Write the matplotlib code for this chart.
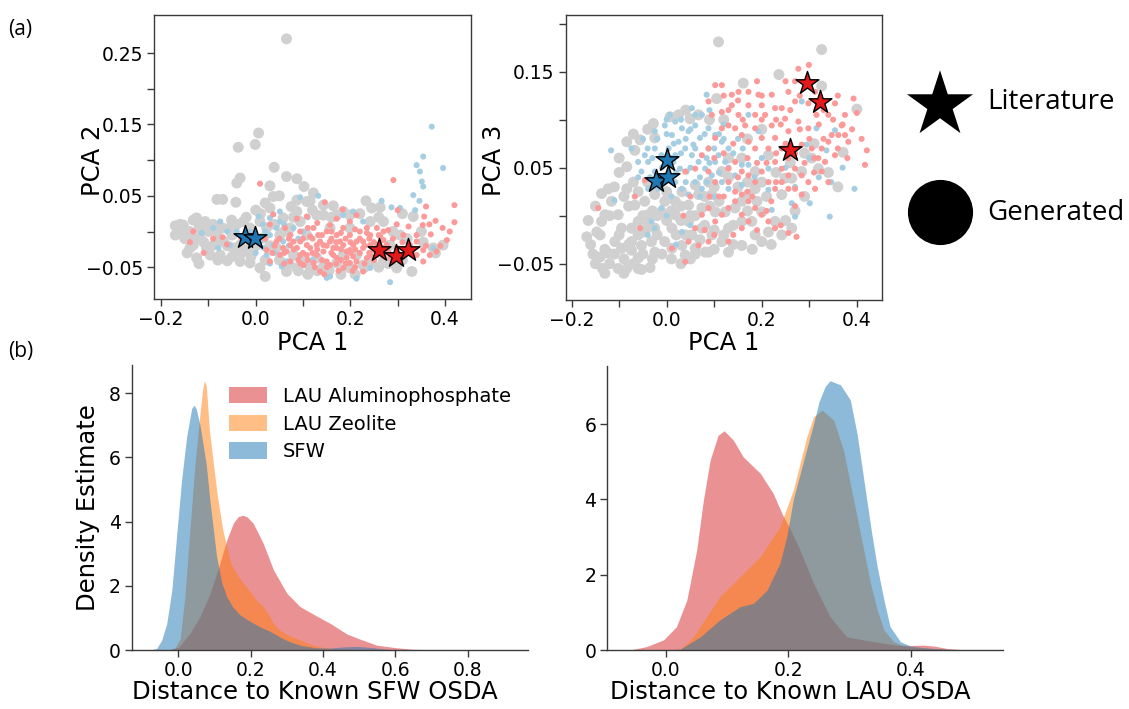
import matplotlib
matplotlib.use("Agg")
import matplotlib.pyplot as plt
import numpy as np
from matplotlib.patches import Patch

plt.rcParams['font.family'] = ['DejaVu Sans']

# ---------------- data: PCA scatter (PCA1, PCA2) ----------------
pca12_gray = [(0.065, 0.270), (0.006, 0.138), (-0.001, 0.122), (-0.037, 0.118), (0.039, 0.090), (0.065, 0.077),
    (0.087, 0.074), (-0.033, 0.075), (-0.040, 0.068), (0.030, 0.064), (0.102, 0.063), (0.122, 0.054), (0.037, 0.049),
    (-0.082, 0.045), (-0.070, 0.045), (-0.042, 0.041), (0.087, 0.044), (0.115, 0.043), (0.143, 0.037), (0.164, 0.036),
    (0.233, 0.043), (0.245, 0.033), (0.263, 0.034), (0.185, 0.028), (0.199, 0.023), (0.333, 0.021), (-0.170, 0.008),
    (-0.149, -0.002), (-0.132, 0.016), (-0.107, 0.014), (-0.111, 0.002), (-0.132, -0.019), (-0.089, -0.019),
    (-0.082, 0.000), (-0.051, 0.016), (-0.054, 0.005), (-0.139, -0.023), (-0.125, -0.037), (-0.060, -0.041),
    (-0.033, -0.042), (-0.012, -0.044), (0.020, -0.063), (0.009, -0.051), (0.115, -0.051), (0.143, -0.049),
    (0.171, -0.044), (0.199, -0.051), (0.227, -0.047), (0.245, -0.042), (0.330, -0.056), (0.354, -0.015),
    (0.396, -0.019), (0.375, -0.023), (0.305, -0.005), (0.284, -0.019), (0.058, 0.019), (0.073, 0.005),
    (0.094, 0.014), (0.108, -0.005), (0.129, 0.023), (0.157, 0.005), (0.199, 0.005), (0.242, 0.014), (0.270, 0.014),
    (-0.012, -0.023), (-0.026, 0.014), (0.030, 0.033), (0.087, 0.028), (0.108, 0.042), (-0.104, -0.023),
    (-0.075, -0.033), (-0.153, 0.009), (-0.125, 0.019), (-0.096, 0.005), (-0.068, -0.014), (-0.047, -0.023),
    (0.044, -0.023), (0.080, -0.033), (0.101, -0.042), (0.129, -0.037), (0.213, -0.033), (0.185, -0.033),
    (0.023, 0.005), (0.009, 0.014), (-0.012, 0.005), (-0.153, 0.000), (-0.118, -0.009), (-0.096, -0.033),
    (-0.033, -0.019), (0.016, -0.009), (0.051, -0.005), (0.143, 0.023), (0.171, 0.023), (0.270, -0.042),
    (0.298, -0.051), (0.065, -0.056), (0.087, -0.051),
    (-0.16, 0.01), (-0.15, -0.01), (-0.14, 0.0), (-0.13, -0.01), (-0.12, 0.005), (-0.11, -0.015), (-0.10, 0.0),
    (-0.09, 0.01), (-0.08, -0.01), (-0.07, 0.005), (-0.06, -0.02), (-0.05, -0.005), (-0.04, 0.01), (-0.03, -0.03),
    (-0.02, 0.02), (-0.01, -0.035), (0.0, -0.02), (0.01, 0.025), (0.02, -0.04), (0.03, -0.02), (0.04, 0.01),
    (0.05, -0.04), (0.06, 0.0), (0.07, -0.045), (0.08, 0.02), (0.09, -0.055), (0.11, -0.06), (0.13, -0.055),
    (0.155, -0.055), (0.18, -0.06), (0.21, -0.06), (0.23, -0.05), (0.26, -0.05), (0.28, -0.045), (0.31, -0.04),
    (0.32, -0.01), (0.35, 0.0), (0.38, -0.03), (-0.17, -0.005), (-0.145, -0.03), (-0.12, -0.045), (-0.08, -0.04),
    (-0.05, -0.035), (0.0, 0.03), (0.02, 0.04), (0.05, 0.05), (0.075, 0.035), (0.12, 0.03), (0.16, 0.02),
    (0.22, 0.025), (0.26, 0.02), (0.29, 0.0), (0.31, 0.025)]
pca12_blue = [(0.372, 0.147), (0.354, 0.105), (0.340, 0.093), (0.396, 0.089), (0.347, 0.084), (0.351, 0.070),
    (0.354, 0.063), (0.333, 0.051), (0.346, 0.043), (0.287, 0.034), (0.305, 0.033), (0.337, 0.030), (0.266, 0.043),
    (-0.075, 0.014), (-0.114, -0.002), (-0.079, -0.023), (0.006, 0.021), (0.051, 0.028), (0.094, 0.048),
    (0.132, 0.050), (0.185, 0.023), (0.206, 0.028), (0.157, -0.063), (0.150, -0.065), (0.213, -0.066),
    (0.284, -0.071), (0.055, -0.049), (0.065, -0.042), (0.016, -0.023), (0.030, -0.005), (0.044, 0.005),
    (0.073, -0.005), (-0.012, 0.000), (0.023, -0.033), (0.375, -0.023), (0.227, 0.014), (0.242, -0.051),
    (0.009, -0.014), (0.037, -0.019), (0.058, -0.014), (-0.040, 0.000), (-0.054, -0.019), (0.051, 0.014),
    (0.080, 0.005), (0.030, 0.019),
    (-0.03, -0.015), (-0.02, 0.0), (0.0, -0.03), (0.02, 0.0), (0.04, -0.03), (0.06, 0.01), (0.07, -0.02),
    (0.09, -0.01), (0.1, 0.0), (0.11, 0.02), (0.12, -0.04), (0.03, -0.045), (0.015, 0.01), (-0.06, 0.0),
    (-0.09, 0.005)]
pca12_pink = [(0.009, 0.067), (0.291, 0.072), (0.420, 0.037), (0.420, 0.013), (0.395, 0.005), (0.404, -0.012),
    (0.356, 0.021), (0.367, 0.010), (0.370, -0.004), (0.353, 0.009), (0.323, 0.007), (0.298, 0.010), (0.312, -0.005),
    (0.280, 0.002), (0.146, 0.041), (0.184, 0.031), (0.171, 0.018), (0.108, 0.021), (0.087, 0.018), (0.062, 0.005),
    (0.037, 0.024), (0.030, 0.010), (-0.139, -0.015), (-0.132, 0.000), (-0.070, -0.008), (-0.061, -0.018),
    (0.023, -0.026), (0.044, -0.014), (0.073, -0.005), (0.094, -0.014), (0.115, -0.007), (0.129, -0.019),
    (0.143, -0.028), (0.157, -0.014), (0.171, -0.023), (0.185, -0.019), (0.199, -0.026), (0.213, -0.014),
    (0.227, -0.023), (0.242, -0.019), (0.256, -0.033), (0.270, -0.023), (0.087, -0.023), (0.108, -0.033),
    (0.129, -0.033), (0.150, -0.042), (0.171, -0.037), (0.192, -0.037), (0.213, -0.042), (0.235, -0.037),
    (0.101, -0.047), (0.136, -0.056), (0.185, -0.051), (0.227, -0.056), (0.073, -0.019), (0.058, -0.023),
    (0.051, -0.033), (0.094, 0.000), (0.122, 0.005), (0.150, 0.000), (0.171, -0.005), (0.199, -0.005),
    (0.220, 0.000), (0.242, -0.005), (0.263, -0.007), (0.277, -0.019), (0.298, -0.023), (0.326, -0.019),
    (0.340, -0.014), (0.354, -0.026), (0.368, -0.033), (0.382, -0.028), (0.354, -0.042), (0.199, 0.014),
    (0.213, 0.023), (0.270, 0.000), (0.108, -0.019), (0.136, -0.014), (0.164, -0.033), (0.192, -0.028),
    (0.206, -0.035), (0.256, -0.019), (0.284, -0.037), (0.030, -0.042), (0.073, -0.042), (0.115, -0.023),
    (0.143, -0.019), (0.164, -0.023), (0.206, -0.019), (0.227, -0.014), (0.249, -0.026), (0.094, -0.033),
    (0.122, -0.044), (0.157, -0.047), (0.199, -0.044), (0.242, -0.033), (0.270, -0.033), (0.178, -0.014),
    (0.132, -0.005), (0.157, 0.009), (0.185, 0.005), (0.235, 0.005), (0.256, 0.005), (0.312, -0.033),
    (0.340, -0.033), (0.080, -0.014), (0.065, -0.028),
    (0.04, -0.02), (0.05, -0.01), (0.06, -0.03), (0.07, -0.01), (0.08, -0.025), (0.09, -0.04), (0.10, -0.03),
    (0.10, -0.01), (0.11, -0.04), (0.12, -0.03), (0.12, -0.01), (0.13, -0.025), (0.14, -0.04), (0.14, -0.005),
    (0.15, -0.02), (0.15, -0.05), (0.16, -0.03), (0.16, -0.01), (0.17, -0.045), (0.17, -0.015), (0.18, -0.025),
    (0.18, -0.04), (0.19, -0.01), (0.19, -0.045), (0.20, -0.03), (0.20, -0.015), (0.21, -0.025), (0.21, -0.05),
    (0.22, -0.03), (0.22, -0.01), (0.23, -0.045), (0.23, -0.02), (0.24, -0.03), (0.24, -0.01), (0.25, -0.04),
    (0.25, -0.015), (0.26, -0.025), (0.26, -0.005), (0.27, -0.035), (0.27, -0.012), (0.28, -0.028), (0.29, -0.01),
    (0.29, -0.04), (0.30, -0.03), (0.31, -0.015), (0.33, -0.03), (0.34, -0.005), (0.36, -0.02), (0.11, 0.005),
    (0.13, 0.012), (0.16, 0.0), (0.18, -0.002), (0.21, 0.003), (0.235, -0.002), (0.125, -0.05), (0.175, -0.055),
    (0.145, -0.06), (0.205, -0.055), (0.095, -0.045), (0.06, -0.045), (0.035, -0.03), (0.02, -0.01),
    (0.005, -0.015), (-0.03, -0.01), (-0.09, -0.01), (-0.11, -0.03), (0.39, -0.02), (0.41, 0.0), (0.38, 0.015),
    (0.36, 0.035), (0.30, 0.03)]
pca12_lit_sfw = [(-0.0225, -0.0070), (-0.0014, -0.0084)]
pca12_lit_lau = [(0.261, -0.0257), (0.296, -0.035), (0.3225, -0.0257)]

# ---------------- data: PCA scatter (PCA1, PCA3) ----------------
pca13_gray = [(0.109, 0.181), (0.326, 0.173), (0.236, 0.147), (0.326, 0.135), (0.400, 0.111), (0.371, 0.066),
    (0.161, 0.138), (0.105, 0.122), (-0.168, -0.022), (-0.147, -0.017), (-0.130, -0.060), (-0.102, -0.055),
    (-0.084, -0.055), (-0.053, -0.056), (-0.035, -0.054), (-0.140, -0.043), (-0.123, -0.039), (-0.095, -0.034),
    (-0.074, -0.036), (-0.053, -0.031), (-0.137, -0.006), (-0.130, 0.001), (-0.137, 0.023), (-0.123, 0.028),
    (-0.084, 0.028), (-0.084, 0.051), (-0.084, 0.077), (-0.067, 0.068), (-0.056, 0.079), (-0.025, 0.081),
    (-0.028, 0.096), (0.007, 0.103), (0.025, 0.105), (0.049, 0.101), (0.067, 0.105), (-0.095, -0.013),
    (-0.074, -0.013), (-0.046, -0.017), (-0.025, -0.013), (-0.004, -0.027), (0.011, -0.034), (0.032, -0.031),
    (0.060, -0.034), (0.088, -0.038), (0.130, -0.038), (0.158, -0.031), (0.186, -0.020), (0.214, -0.017),
    (0.179, -0.006), (0.200, 0.004), (0.158, -0.006), (0.130, -0.013), (0.095, -0.020), (0.074, -0.013),
    (0.046, -0.006), (0.018, 0.001), (-0.011, 0.004), (-0.039, 0.001), (-0.060, -0.006), (-0.067, 0.011),
    (-0.046, 0.015), (-0.025, 0.022), (-0.004, 0.015), (0.018, 0.015), (0.046, 0.011), (0.074, 0.008),
    (0.102, 0.004), (0.123, 0.004), (0.144, 0.008), (0.158, 0.015), (0.172, 0.022), (0.186, 0.028),
    (0.200, 0.035), (0.095, 0.022), (0.067, 0.022), (0.032, 0.025), (0.060, 0.032), (0.088, 0.035),
    (0.116, 0.046), (0.130, 0.060), (0.158, 0.060), (0.186, 0.046), (0.214, 0.063), (0.249, 0.039),
    (0.263, 0.039), (0.284, 0.046), (0.305, 0.060), (0.319, 0.049), (0.242, -0.020), (0.263, -0.013),
    (-0.025, -0.038), (-0.060, -0.044), (0.081, -0.038), (0.039, -0.041), (-0.109, -0.027), (-0.116, 0.015),
    (-0.102, 0.001), (0.011, -0.013), (0.053, -0.020), (0.116, -0.027), (-0.032, -0.027), (-0.074, -0.027),
    (0.200, -0.027), (0.228, -0.006), (0.242, 0.022),
    (-0.16, -0.03), (-0.15, -0.05), (-0.14, -0.02), (-0.13, -0.035), (-0.12, -0.05), (-0.11, -0.04), (-0.10, -0.02),
    (-0.09, -0.045), (-0.08, -0.03), (-0.07, -0.05), (-0.06, -0.02), (-0.05, -0.04), (-0.04, -0.01), (-0.03, -0.045),
    (-0.02, -0.02), (-0.01, -0.04), (0.0, -0.005), (0.01, -0.045), (0.02, -0.02), (0.03, -0.005), (0.04, -0.02),
    (0.05, -0.045), (0.06, 0.0), (0.07, -0.025), (0.08, -0.01), (0.09, 0.01), (0.10, -0.015), (0.11, 0.015),
    (0.12, -0.02), (0.14, -0.01), (0.15, 0.03), (0.17, 0.005), (0.19, 0.015), (0.21, 0.02), (-0.12, 0.0),
    (-0.11, 0.03), (-0.10, 0.045), (-0.09, 0.02), (-0.08, 0.01), (-0.07, 0.035), (-0.06, 0.025), (-0.05, 0.0),
    (-0.04, 0.035), (-0.03, 0.005), (-0.02, 0.0), (0.0, 0.025), (0.01, 0.005), (0.03, 0.01), (0.05, 0.0),
    (0.08, 0.02), (0.1, 0.03), (0.13, 0.04), (0.17, 0.035), (-0.1, 0.06), (-0.07, 0.085), (-0.04, 0.09),
    (0.04, 0.11), (0.09, 0.1), (0.12, 0.1), (-0.15, 0.01), (-0.165, -0.005), (-0.155, -0.04), (-0.135, -0.055),
    (-0.09, -0.06), (-0.06, -0.055), (0.03, -0.05), (0.06, -0.04), (0.1, -0.035), (0.14, -0.03), (0.18, -0.035),
    (0.22, -0.03), (0.25, -0.005), (0.27, 0.005), (0.29, 0.02), (0.23, 0.045), (0.26, 0.055), (0.29, 0.065),
    (0.31, 0.075), (0.34, 0.045), (0.36, 0.03), (0.2, 0.09), (0.17, 0.08)]
pca13_blue = [(-0.117, 0.068), (-0.074, 0.070), (-0.053, 0.046), (-0.110, 0.016), (0.007, 0.105), (0.053, 0.112),
    (0.084, 0.126), (0.074, 0.105), (-0.025, 0.088), (-0.004, 0.094), (0.018, 0.098), (0.032, 0.091), (0.046, 0.088),
    (0.060, 0.094), (0.088, 0.091), (0.102, 0.084), (0.116, 0.077), (0.130, 0.070), (0.011, 0.084), (0.025, 0.077),
    (0.039, 0.070), (0.053, 0.063), (0.067, 0.056), (0.081, 0.049), (0.095, 0.042), (0.109, 0.063), (0.123, 0.056),
    (-0.025, 0.070), (-0.011, 0.063), (-0.039, 0.056), (-0.025, 0.046), (-0.004, 0.042), (0.018, 0.035),
    (0.032, 0.028), (0.046, 0.022), (0.060, 0.035), (0.074, 0.028), (0.088, 0.070), (0.102, 0.056), (0.116, 0.035),
    (0.130, 0.028), (0.144, 0.042), (0.158, 0.032), (-0.018, 0.028), (-0.032, -0.006), (-0.025, -0.013),
    (0.032, -0.017), (-0.011, 0.008), (-0.039, 0.028), (0.014, 0.056), (0.028, 0.049), (0.042, 0.046),
    (0.056, 0.074), (0.070, 0.081), (0.084, 0.060), (0.004, 0.070), (0.018, 0.063), (-0.060, 0.056),
    (-0.046, 0.063), (0.172, 0.053), (0.284, 0.119), (0.214, 0.027), (0.221, 0.006), (0.263, 0.013),
    (0.270, -0.001), (0.301, 0.013), (0.343, -0.001), (0.346, 0.035), (0.395, 0.028), (0.336, 0.068),
    (0.315, 0.091), (0.354, 0.089), (0.172, 0.105), (0.193, 0.088), (0.200, 0.060), (0.214, 0.049),
    (0.158, 0.053), (0.256, 0.074), (0.294, 0.074),
    (-0.05, 0.08), (-0.04, 0.07), (-0.03, 0.06), (-0.02, 0.08), (-0.01, 0.05), (0.0, 0.085), (0.01, 0.06),
    (0.02, 0.045), (0.03, 0.065), (0.04, 0.08), (0.05, 0.05), (0.06, 0.07), (0.07, 0.04), (0.08, 0.085),
    (0.09, 0.055), (0.1, 0.07), (0.11, 0.045), (0.12, 0.08), (0.13, 0.05), (0.14, 0.065), (0.0, 0.1), (0.03, 0.1),
    (0.06, 0.105), (0.09, 0.11), (0.12, 0.095), (-0.06, 0.04), (-0.02, 0.03), (0.01, 0.02), (0.04, 0.035),
    (0.07, 0.02), (0.1, 0.02), (0.05, 0.09), (0.015, 0.075), (-0.035, 0.04), (0.085, 0.035), (0.11, 0.085),
    (0.15, 0.08), (0.16, 0.07), (0.0, 0.0), (0.02, -0.03), (-0.04, -0.02), (0.05, -0.01), (0.185, 0.04),
    (0.25, 0.05), (0.27, 0.03), (0.32, 0.04), (0.3, 0.06), (0.37, 0.05)]
pca13_pink = [(0.299, 0.157), (0.277, 0.153), (0.270, 0.140), (0.298, 0.117), (0.340, 0.105), (0.354, 0.117),
    (0.393, 0.122), (0.400, 0.107), (0.368, 0.094), (0.347, 0.084), (0.361, 0.084), (0.375, 0.084), (0.421, 0.068),
    (0.417, 0.053), (0.326, 0.070), (0.319, 0.060), (0.305, 0.070), (0.284, 0.074), (0.256, 0.088), (0.249, 0.101),
    (0.228, 0.112), (0.221, 0.094), (0.207, 0.105), (0.193, 0.126), (0.172, 0.129), (0.151, 0.129), (0.116, 0.136),
    (0.102, 0.136), (0.088, 0.119), (0.095, 0.105), (0.116, 0.108), (0.137, 0.115), (0.151, 0.105), (0.165, 0.094),
    (0.186, 0.091), (0.200, 0.081), (0.228, 0.081), (0.242, 0.070), (0.256, 0.060), (0.270, 0.049), (0.284, 0.042),
    (0.298, 0.035), (0.256, 0.042), (0.242, 0.049), (0.228, 0.056), (0.214, 0.070), (0.186, 0.070), (0.172, 0.077),
    (0.158, 0.084), (0.144, 0.091), (0.130, 0.094), (0.116, 0.091), (0.102, 0.081), (0.088, 0.070), (0.074, 0.063),
    (0.130, 0.049), (0.144, 0.056), (0.158, 0.046), (0.172, 0.042), (0.186, 0.035), (0.200, 0.046), (0.214, 0.035),
    (0.228, 0.028), (0.242, 0.035), (0.256, 0.028), (0.270, 0.028), (0.284, 0.022), (0.130, 0.035), (0.144, 0.025),
    (0.158, 0.022), (0.172, 0.015), (0.186, 0.008), (0.200, 0.001), (0.214, -0.006), (0.228, -0.013),
    (0.256, -0.018), (0.273, -0.022), (0.172, -0.006), (0.158, 0.001), (0.144, 0.015), (0.130, 0.008),
    (0.116, 0.001), (0.102, -0.006), (0.088, 0.008), (0.074, 0.001), (0.060, -0.013), (0.046, -0.027),
    (0.039, -0.048), (0.011, -0.034), (0.067, -0.031), (0.088, -0.027), (0.130, -0.027), (0.158, -0.013),
    (0.088, 0.046), (0.102, 0.035), (0.060, 0.049), (0.039, 0.046), (-0.046, 0.037), (-0.067, 0.020),
    (-0.144, 0.008), (-0.056, -0.013), (0.312, 0.028), (0.326, 0.046), (0.333, 0.056), (0.354, 0.063),
    (0.340, 0.077), (0.382, 0.077), (0.242, 0.112), (0.277, 0.098), (0.298, 0.091), (0.315, 0.105),
    (0.221, 0.126), (0.200, 0.115), (0.312, 0.129), (0.186, 0.105), (0.172, 0.115), (0.137, 0.126),
    (0.270, 0.119), (0.256, 0.129), (0.375, 0.105),
    (0.1, 0.06), (0.11, 0.02), (0.12, 0.065), (0.13, 0.11), (0.14, 0.075), (0.15, 0.04), (0.16, 0.1), (0.17, 0.06),
    (0.18, 0.02), (0.19, 0.055), (0.2, 0.1), (0.21, 0.055), (0.22, 0.015), (0.23, 0.065), (0.24, 0.095),
    (0.25, 0.075), (0.26, 0.11), (0.27, 0.065), (0.28, 0.09), (0.29, 0.055), (0.3, 0.08), (0.31, 0.045),
    (0.32, 0.095), (0.33, 0.08), (0.34, 0.035), (0.35, 0.1), (0.36, 0.07), (0.37, 0.095), (0.38, 0.06),
    (0.39, 0.09), (0.41, 0.08), (0.1, -0.02), (0.14, -0.02), (0.19, -0.015), (0.24, -0.01), (0.21, 0.005),
    (0.17, 0.025), (0.12, 0.02), (0.09, 0.02), (0.08, -0.015), (0.05, 0.02), (0.035, 0.0), (0.23, 0.035),
    (0.27, 0.01), (0.31, 0.06), (0.28, 0.125), (0.33, 0.11), (0.36, 0.125), (0.25, 0.14), (0.19, 0.14),
    (0.12, 0.125), (0.15, 0.12), (0.23, 0.1), (0.2, 0.125)]
pca13_lit_sfw = [(0.0, 0.058), (-0.023, 0.0365), (0.0035, 0.0406)]
pca13_lit_lau = [(0.2944, 0.1378), (0.3224, 0.118), (0.26, 0.0684)]

# ---------------- data: density curves ----------------
sfw_dist_x = [-0.075, -0.06, -0.046, -0.032, -0.018, -0.005, 0.009, 0.023, 0.037, 0.044, 0.05, 0.06, 0.07, 0.077,
              0.087, 0.097, 0.106, 0.12, 0.134, 0.15, 0.17, 0.19, 0.21, 0.23, 0.25, 0.27, 0.29, 0.31, 0.34,
              0.38, 0.42, 0.46, 0.50, 0.54, 0.58, 0.62]
sfw_dist_sfw = [0.0, 0.05, 0.31, 0.83, 1.87, 3.53, 5.3, 6.65, 7.53, 7.63, 7.5, 7.0, 6.3, 5.8, 4.7, 3.74, 2.9, 2.1,
                1.66, 1.35, 1.1, 0.95, 0.82, 0.7, 0.6, 0.48, 0.35, 0.25, 0.14, 0.07, 0.06, 0.1, 0.11, 0.07, 0.02, 0.0]
sfw_dist_zeo_x = [-0.03, -0.01, 0.005, 0.018, 0.032, 0.046, 0.06, 0.067, 0.072, 0.077, 0.08, 0.086, 0.097, 0.108,
                  0.123, 0.145, 0.165, 0.18, 0.2, 0.22, 0.235, 0.25, 0.263, 0.28, 0.3, 0.337, 0.36, 0.39, 0.43,
                  0.5, 0.55]
sfw_dist_zeo = [0.0, 0.05, 0.35, 1.66, 3.74, 5.8, 7.37, 8.1, 8.39, 8.25, 7.8, 6.85, 5.8, 4.8, 3.74, 2.7, 2.3, 2.08,
                1.8, 1.5, 1.35, 1.1, 0.83, 0.62, 0.48, 0.31, 0.2, 0.1, 0.04, 0.01, 0.0]
sfw_dist_alpo_x = [-0.03, 0.0, 0.032, 0.06, 0.088, 0.115, 0.134, 0.152, 0.165, 0.178, 0.19, 0.207, 0.235, 0.263,
                   0.3, 0.337, 0.373, 0.40, 0.42, 0.466, 0.5, 0.549, 0.604, 0.65, 0.7, 0.8, 0.85]
sfw_dist_alpo = [0.0, 0.08, 0.52, 1.04, 1.77, 2.7, 3.43, 3.95, 4.15, 4.2, 4.15, 3.95, 3.32, 2.5, 1.77, 1.35, 1.12,
                 0.95, 0.83, 0.5, 0.35, 0.15, 0.07, 0.02, 0.01, 0.01, 0.0]

lau_dist_alpo_x = [-0.09, -0.059, -0.032, -0.004, 0.017, 0.034, 0.05, 0.061, 0.072, 0.085, 0.095, 0.11, 0.126,
                   0.154, 0.175, 0.19, 0.2, 0.219, 0.241, 0.268, 0.295, 0.339, 0.377, 0.40, 0.42, 0.44, 0.459,
                   0.49, 0.52]
lau_dist_alpo = [0.0, 0.0, 0.09, 0.27, 0.62, 1.33, 2.65, 3.98, 5.04, 5.7, 5.82, 5.57, 5.13, 4.69, 4.16, 3.6, 3.3,
                 2.65, 1.77, 0.88, 0.35, 0.22, 0.13, 0.12, 0.13, 0.1, 0.04, 0.0, 0.0]
lau_dist_zeo_x = [-0.02, 0.023, 0.045, 0.066, 0.088, 0.121, 0.154, 0.186, 0.208, 0.219, 0.23, 0.241, 0.255, 0.274,
                  0.29, 0.301, 0.312, 0.323, 0.334, 0.345, 0.356, 0.372, 0.39, 0.42, 0.47]
lau_dist_zeo = [0.0, 0.02, 0.35, 0.88, 1.42, 1.95, 2.48, 3.27, 4.25, 4.96, 5.66, 6.19, 6.37, 6.1, 5.3, 4.42, 3.54,
                2.65, 1.77, 1.06, 0.53, 0.22, 0.09, 0.05, 0.0]
lau_dist_sfw_x = [0.0, 0.023, 0.056, 0.088, 0.121, 0.143, 0.165, 0.186, 0.197, 0.208, 0.225, 0.241, 0.25, 0.26,
                  0.268, 0.285, 0.301, 0.312, 0.32, 0.328, 0.336, 0.345, 0.356, 0.366, 0.383, 0.40, 0.43, 0.48]
lau_dist_sfw = [0.0, 0.02, 0.35, 0.8, 1.15, 1.24, 1.59, 2.3, 3.0, 4.0, 5.04, 6.0, 6.6, 7.0, 7.15, 7.04, 6.64, 5.75,
                4.87, 3.98, 3.1, 2.21, 1.33, 0.62, 0.22, 0.1, 0.05, 0.0]

series_names = ['LAU Aluminophosphate', 'LAU Zeolite', 'SFW']

# ---------------- styling ----------------
W, H = 1129, 709
C_GRAY, C_LBLUE, C_PINK = '#d0d0d0', '#a6cee3', '#fb9a99'
C_DBLUE, C_RED = '#1f78b4', '#e31a1c'
KDE_COLORS = ['#d62728', '#ff7f0e', '#1f77b4']
SPINE = '#3a3a3a'
TICK_FS = 13.5
LAB_FS = 17.5

fig = plt.figure(figsize=(W / 100, H / 100), dpi=100)


def add_ax(l, r, t, b):
    return fig.add_axes([l / W, 1 - b / H, (r - l) / W, (b - t) / H])


def style(ax, spines=('left', 'bottom', 'right', 'top')):
    for s in ax.spines:
        ax.spines[s].set_visible(s in spines)
        ax.spines[s].set_color(SPINE)
        ax.spines[s].set_linewidth(1.0)
    ax.tick_params(labelsize=TICK_FS, length=5, width=1.0, color=SPINE, pad=3)


def scatter_panel(ax, gray, blue, pink, lit_b, lit_r):
    for pts, c, s in ((gray, C_GRAY, 62), (blue, C_LBLUE, 19), (pink, C_PINK, 19)):
        a = np.array(pts)
        ax.scatter(a[:, 0], a[:, 1], s=s, c=c, edgecolors='none', zorder=2)
    for pts, c in ((lit_b, C_DBLUE), (lit_r, C_RED)):
        a = np.array(pts)
        ax.scatter(a[:, 0], a[:, 1], s=300, marker='*', c=c, edgecolors='black', linewidths=1.0, zorder=4)


xt = [-0.2, -0.1, 0.0, 0.1, 0.2, 0.3, 0.4]
xtl = ['\u22120.2', '', '0.0', '', '0.2', '', '0.4']

# (a) left: PCA1 vs PCA2
ax1 = add_ax(154, 471, 15.3, 299.3)
style(ax1)
scatter_panel(ax1, pca12_gray, pca12_blue, pca12_pink, pca12_lit_sfw, pca12_lit_lau)
ax1.set_xlim(-0.215, 0.455)
ax1.set_ylim(-0.095, 0.303)
ax1.set_xticks(xt)
ax1.set_xticklabels(xtl)
ax1.set_yticks([-0.05, 0.0, 0.05, 0.10, 0.15, 0.20, 0.25])
ax1.set_yticklabels(['\u22120.05', '', '0.05', '', '0.15', '', '0.25'])
ax1.set_xlabel('PCA 1', fontsize=LAB_FS, labelpad=1)
ax1.set_ylabel('PCA 2', fontsize=LAB_FS)
ax1.yaxis.set_label_coords(-0.153, 0.49)

# (a) right: PCA1 vs PCA3
ax2 = add_ax(565.7, 882.3, 15.3, 300)
style(ax2)
scatter_panel(ax2, pca13_gray, pca13_blue, pca13_pink, pca13_lit_sfw, pca13_lit_lau)
ax2.set_xlim(-0.2124, 0.4535)
ax2.set_ylim(-0.0878, 0.2087)
ax2.set_xticks(xt)
ax2.set_xticklabels(xtl)
ax2.set_yticks([-0.05, 0.0, 0.05, 0.10, 0.15, 0.20])
ax2.set_yticklabels(['\u22120.05', '', '0.05', '', '0.15', ''])
ax2.set_xlabel('PCA 1', fontsize=LAB_FS, labelpad=1)
ax2.set_ylabel('PCA 3', fontsize=LAB_FS)
ax2.yaxis.set_label_coords(-0.189, 0.49)

# (b) left: distance to SFW OSDA
ax3 = add_ax(131.7, 528.3, 365, 650)
style(ax3, spines=('left', 'bottom'))
curves_l = [(sfw_dist_alpo_x, sfw_dist_alpo), (sfw_dist_zeo_x, sfw_dist_zeo), (sfw_dist_x, sfw_dist_sfw)]
for (cx, cy), col in zip(curves_l, KDE_COLORS):
    ax3.fill_between(cx, 0, cy, color=col, alpha=0.5, linewidth=0)
ax3.set_xlim(-0.129, 0.968)
ax3.set_ylim(0, 8.88)
ax3.set_xticks([0.0, 0.2, 0.4, 0.6, 0.8])
ax3.set_yticks([0, 2, 4, 6, 8])
ax3.set_xlabel('Distance to Known SFW OSDA', fontsize=LAB_FS)
ax3.xaxis.set_label_coords(0.462, -0.105)
ax3.set_ylabel('Density Estimate', fontsize=LAB_FS, labelpad=6)
handles = [Patch(facecolor=c, alpha=0.5, edgecolor='none') for c in KDE_COLORS]
ax3.legend(handles, series_names, loc='upper left', bbox_to_anchor=(0.2, 0.985), frameon=False,
           fontsize=14, handlelength=2.0, handleheight=0.9, labelspacing=0.45, handletextpad=0.8)

# (b) right: distance to LAU OSDA
ax4 = add_ax(607.3, 1003.3, 366, 650)
style(ax4, spines=('left', 'bottom'))
curves_r = [(lau_dist_alpo_x, lau_dist_alpo), (lau_dist_zeo_x, lau_dist_zeo), (lau_dist_sfw_x, lau_dist_sfw)]
for (cx, cy), col in zip(curves_r, KDE_COLORS):
    ax4.fill_between(cx, 0, cy, color=col, alpha=0.5, linewidth=0)
ax4.set_xlim(-0.096, 0.551)
ax4.set_ylim(0, 7.54)
ax4.set_xticks([0.0, 0.2, 0.4])
ax4.set_yticks([0, 2, 4, 6])
ax4.set_xlabel('Distance to Known LAU OSDA', fontsize=LAB_FS)
ax4.xaxis.set_label_coords(0.461, -0.105)

# marker key at right
axk = fig.add_axes([0, 0, 1, 1])
axk.set_xlim(0, W)
axk.set_ylim(H, 0)
axk.axis('off')
axk.scatter([940], [105], s=2500, marker='*', c='black', edgecolors='none')
axk.scatter([940.5], [212.5], s=2200, marker='o', c='black', edgecolors='none')
axk.text(987, 102, 'Literature', fontsize=20, family='Open Sans', va='center', ha='left')
axk.text(987, 213, 'Generated', fontsize=20, family='Open Sans', va='center', ha='left')
axk.text(8, 30, '(a)', fontsize=15, family='Open Sans', va='center', ha='left')
axk.text(8, 352, '(b)', fontsize=15, family='Open Sans', va='center', ha='left')

fig.savefig('out.png', dpi=100)
